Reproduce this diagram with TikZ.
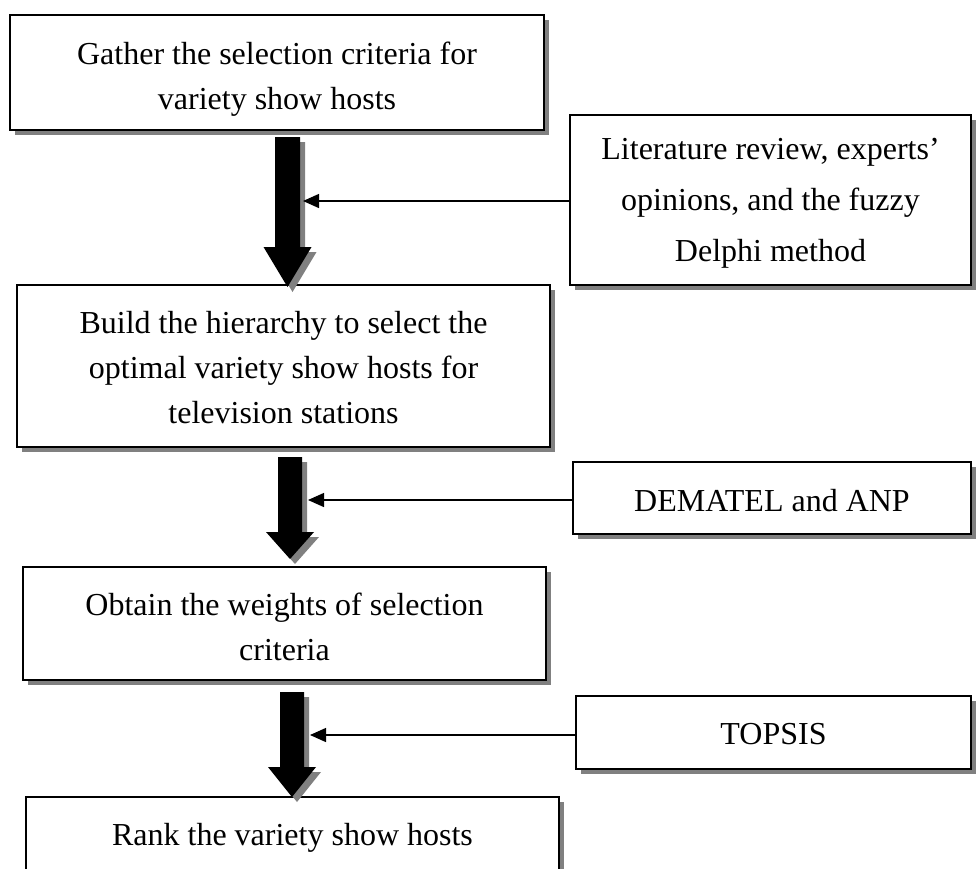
\documentclass[tikz,border=0pt]{standalone}
\usepackage{fontspec}
\setmainfont{Liberation Serif}
\usetikzlibrary{arrows.meta,shadows}
\tikzset{
  box/.style={draw=black, line width=1.6pt, fill=white, align=center, inner sep=0pt,
    font=\fontsize{32}{45}\selectfont,
    drop shadow={shadow xshift=5pt, shadow yshift=-5pt, fill=black!50, opacity=1}},
  feed/.style={line width=1.3pt, -{Triangle[length=16pt,width=14pt]}},
  bigshadow/.style={fill=black!50},
  bigbody/.style={fill=black},
}
\newcommand{\BigArr}[5]{%
  \fill[bigshadow, shift={(5,5)}] (#1-#2,#3) -- (#1+#2,#3) -- (#1+#2,#4) -- (#1+24,#4) -- (#1,#5) -- (#1-24,#4) -- (#1-#2,#4) -- cycle;
  \fill[bigbody] (#1-#2,#3) -- (#1+#2,#3) -- (#1+#2,#4) -- (#1+24,#4) -- (#1,#5) -- (#1-24,#4) -- (#1-#2,#4) -- cycle;
}
\begin{document}
\begin{tikzpicture}[x=1pt,y=-1pt]
\useasboundingbox (0,0) rectangle (976,868);
\fill[white] (0,0) rectangle (976,868);

\node[box, minimum width=534pt, minimum height=115pt, text height=80pt, text depth=7pt] (b1) at (277,72.5)
  {Gather the selection criteria for\\variety show hosts};
\node[box, minimum width=533pt, minimum height=162pt, text height=121pt, text depth=7pt] (b2) at (283.5,366)
  {Build the hierarchy to select the\\optimal variety show hosts for\\television stations};
\node[box, minimum width=523pt, minimum height=113pt, text height=80pt, text depth=7pt] (b3) at (284.5,623.5)
  {Obtain the weights of selection\\criteria};
\node[box, minimum width=533pt, minimum height=81pt] (b4) at (292.5,837.5)
  {Rank the variety show hosts};

\node[box, font=\fontsize{32}{51}\selectfont, minimum width=401pt, minimum height=170pt, text height=129pt, text depth=7pt] (lit) at (770.5,200)
  {Literature review, experts'\\opinions, and the fuzzy\\Delphi method};
\node[box, minimum width=398pt, minimum height=72pt, text height=33pt, text depth=7pt] (dem) at (772,498)
  {DEMATEL and ANP};
\node[box, minimum width=395pt, minimum height=73pt, text height=30pt, text depth=7pt] (top) at (773.5,732.5)
  {TOPSIS};

\BigArr{287.5}{12.5}{137}{247}{287}
\BigArr{290}{12}{457}{532}{559}
\BigArr{292}{12}{692}{767}{797}

\coordinate (c1) at (303,201);
\coordinate (c2) at (308,500);
\coordinate (c3) at (310,735);
\draw[feed] (lit.west |- c1) -- (c1);
\draw[feed] (dem.west |- c2) -- (c2);
\draw[feed] (top.west |- c3) -- (c3);
\end{tikzpicture}
\end{document}
